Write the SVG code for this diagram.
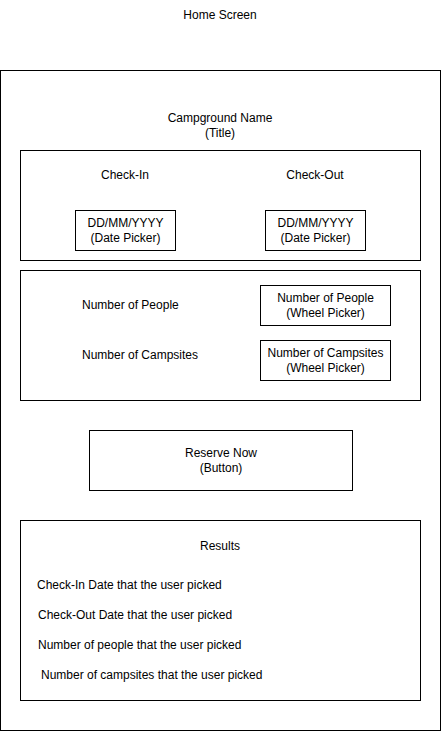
<svg xmlns="http://www.w3.org/2000/svg" width="441" height="731" viewBox="0 0 441 731">
<style>
.b{fill:#fff;stroke:#000;stroke-width:1}
text{font-family:"Liberation Sans",Arial,sans-serif;font-size:12px;fill:#000}
.c{text-anchor:middle}
</style>
<rect width="441" height="731" fill="#fff"/>
<g id="title"><text class="c" x="220" y="19">Home Screen</text></g>
<g id="screen"><rect class="b" x="0.5" y="70.5" width="440" height="660"/></g>
<g id="campground"><text class="c" x="220" y="122">Campground Name</text><text class="c" x="220" y="137">(Title)</text></g>
<g id="dates">
<rect class="b" x="20.5" y="150.5" width="400" height="110"/>
<text class="c" x="125" y="179">Check-In</text>
<text class="c" x="315" y="179">Check-Out</text>
</g>
<g id="checkin-picker"><rect class="b" x="75.5" y="210.5" width="100" height="40"/><text class="c" x="125.5" y="227">DD/MM/YYYY</text><text class="c" x="125.5" y="242">(Date Picker)</text></g>
<g id="checkout-picker"><rect class="b" x="265.5" y="210.5" width="100" height="40"/><text class="c" x="315.5" y="227">DD/MM/YYYY</text><text class="c" x="315.5" y="242">(Date Picker)</text></g>
<g id="counts">
<rect class="b" x="20.5" y="270.5" width="400" height="130"/>
<text x="82" y="309">Number of People</text>
<text x="82" y="359">Number of Campsites</text>
</g>
<g id="people-picker"><rect class="b" x="260.5" y="285.5" width="130" height="40"/><text class="c" x="325.5" y="302">Number of People</text><text class="c" x="325.5" y="317">(Wheel Picker)</text></g>
<g id="campsites-picker"><rect class="b" x="260.5" y="340.5" width="130" height="40"/><text class="c" x="325.5" y="357">Number of Campsites</text><text class="c" x="325.5" y="372">(Wheel Picker)</text></g>
<g id="button"><rect class="b" x="89.5" y="430.5" width="263" height="60"/><text class="c" x="221" y="457">Reserve Now</text><text class="c" x="221" y="472">(Button)</text></g>
<g id="results">
<rect class="b" x="20.5" y="520.5" width="400" height="180"/>
<text class="c" x="220" y="550">Results</text>
<text x="37" y="589">Check-In Date that the user picked</text>
<text x="38" y="619">Check-Out Date that the user picked</text>
<text x="38" y="649">Number of people that the user picked</text>
<text x="41" y="679">Number of campsites that the user picked</text>
</g>
<g id="connectors"></g>
</svg>
